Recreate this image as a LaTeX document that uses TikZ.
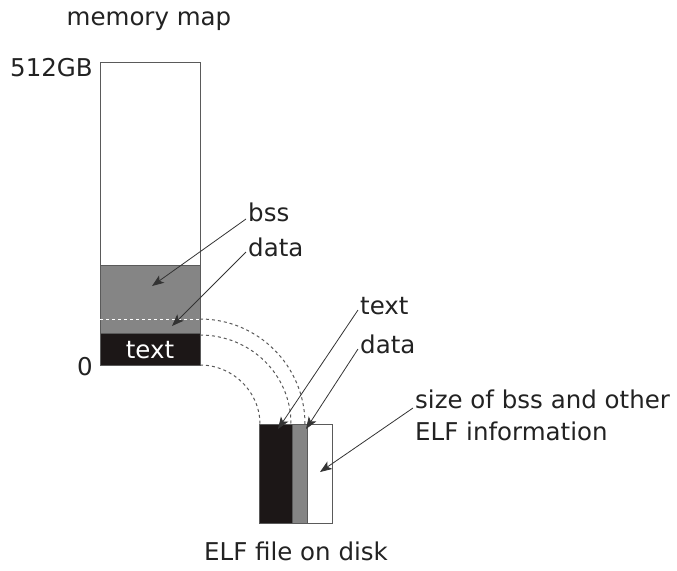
\documentclass[tikz,border=0pt]{standalone}
\usepackage{fontspec}
\setmainfont{DejaVu Sans}
\usetikzlibrary{arrows.meta}
\definecolor{boxgray}{HTML}{858585}
\definecolor{boxblack}{HTML}{1C1717}
\definecolor{linegray}{HTML}{5A5A5A}
\definecolor{txt}{HTML}{222222}
\begin{document}
\begin{tikzpicture}[x=1pt,y=-1pt,
  lbl/.style={inner sep=0pt,anchor=base west,text=txt,font=\fontsize{24.5}{32}\selectfont},
  region/.style={draw=linegray,line width=0.9pt},
  pointer/.style={draw=black!80,line width=0.8pt,-{Stealth[length=12pt,width=9pt,inset=3pt]}},
  link/.style={draw=black!65,line width=1pt,dash pattern=on 3pt off 3pt},
  ]
\useasboundingbox (0,0) rectangle (677,570);
% memory map
\draw[region,fill=white] (100,62) rectangle (200,365);
\draw[region,fill=boxgray] (100,265) rectangle (200,333);
\draw[region,fill=boxblack] (100,333) rectangle (200,365);
\draw[white,line width=1pt,dash pattern=on 3pt off 3pt] (100,319) -- (200,319);
\node[lbl,anchor=base,text=white] (tin) at (150,358) {text};
\coordinate (m1) at (200,319);
\coordinate (m2) at (200,335);
\coordinate (m3) at (200,365);
% ELF file
\draw[region,fill=white] (259,424) rectangle (332,523);
\draw[region,fill=boxblack] (259,424) rectangle (292,523);
\draw[region,fill=boxgray] (292,424) rectangle (307,523);
\coordinate (e1) at (305,424);
\coordinate (e2) at (291,424);
\coordinate (e3) at (260,424);
% dashed links
\draw[link] (m1) .. controls (258,319) and (305,366) .. (e1);
\draw[link] (m2) .. controls (250,335) and (291,374) .. (e2);
\draw[link] (m3) .. controls (233,365) and (260,392) .. (e3);
% labels
\node[lbl,anchor=base] (mm) at (149,25) {memory map};
\node[lbl,anchor=base east] (top) at (93,76) {512GB};
\node[lbl,anchor=base east] (zero) at (93,375) {0};
\node[lbl] (bss) at (248,221) {bss};
\node[lbl] (data) at (248,256) {data};
\node[lbl] (text) at (360,314) {text};
\node[lbl] (data2) at (360,353) {data};
\node[lbl,align=left,anchor=north west] (size) at (415,390) {size of bss and other\\ELF information};
\node[lbl,anchor=base] (elf) at (296,560) {ELF file on disk};
% pointers
\coordinate (pb) at (152,286);
\coordinate (pd) at (172,326);
\coordinate (pt) at (278,429);
\coordinate (pd2) at (306,429);
\coordinate (ps) at (320,472);
\draw[pointer] (bss.base west) ++(-2,-2) -- (pb);
\draw[pointer] (data.base west) ++(-2,-4) -- (pd);
\draw[pointer] (text.base west) ++(-2,-4) -- (pt);
\draw[pointer] (data2.base west) ++(-2,-4) -- (pd2);
\draw[pointer] (size.north west) ++(-2,18) -- (ps);
\end{tikzpicture}
\end{document}
